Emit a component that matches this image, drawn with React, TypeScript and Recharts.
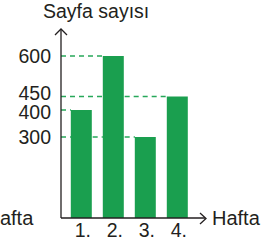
import { Bar, BarChart, ReferenceLine, XAxis, YAxis } from "recharts";

const weeks = [1, 2, 3, 4];
const weekLabels = ["1.", "2.", "3.", "4."];
const pages = [400, 600, 300, 450];
const pageTicks = [300, 400, 450, 600];

const data = weeks.map((week, i) => ({ week, pages: pages[i] }));

const font = "'Liberation Sans', Arial, Helvetica, sans-serif";
const green = "#1a9f4f";
const dashGreen = "#27a85a";
const ink = "#231f20";

// x axis runs a bit left of the first bar and out to the arrow
const xDomain: [number, number] = [0.35, 4.85];
const halfBar = 0.34; // half a bar, in week units (bar 21px, 32px per week)

// dashed guide from the y axis to the bar with that value, broken where taller bars stand
function guideSegments(v: number) {
  const target = pages.indexOf(v);
  const parts: [number, number][] = [];
  let start = xDomain[0];
  for (let j = 0; j < target; j++) {
    if (pages[j] > v) {
      parts.push([start, weeks[j] - halfBar]);
      start = weeks[j] + halfBar;
    }
  }
  parts.push([start, weeks[target] - halfBar]);
  return parts;
}

const labelStyle = { fontFamily: font, fontSize: 19.5, fill: ink };

function renderWeekTick(props: any) {
  const { x, y, payload, index } = props;
  return (
    <text key={`w-${index}`} x={x + 1} y={y} dy="0.71em" textAnchor="middle" style={labelStyle}>
      {weekLabels[index] ?? payload.value}
    </text>
  );
}

// 400 and 450 sit close together, so spread their labels a little like the original
function renderPageTick(props: any) {
  const { x, y, payload } = props;
  const v = payload.value;
  const crowdedBelow = pageTicks.some((t) => t < v && v - t <= 60);
  const crowdedAbove = pageTicks.some((t) => t > v && t - v <= 60);
  const nudge = (crowdedBelow ? -3.5 : 0) + (crowdedAbove ? 2 : 0);
  return (
    <text key={`p-${v}`} x={x} y={y + nudge} dy="0.36em" textAnchor="end" style={labelStyle}>
      {v}
    </text>
  );
}

export default function App() {
  return (
    <div
      style={{
        position: "fixed",
        left: 0,
        top: 0,
        width: 273,
        height: 247,
        background: "#fff",
        fontFamily: font,
      }}
    >
      <BarChart
        width={273}
        height={247}
        data={data}
        margin={{ top: 29, right: 68, bottom: 0, left: 0 }}
        style={{ fontFamily: font }}
      >
        <XAxis
          dataKey="week"
          type="number"
          domain={xDomain}
          ticks={weeks}
          interval={0}
          height={29}
          tickSize={0}
          tickMargin={5}
          tickLine={false}
          axisLine={{ stroke: ink, strokeWidth: 1.3 }}
          tick={renderWeekTick}
        />
        <YAxis
          type="number"
          domain={[0, 700]}
          ticks={pageTicks}
          interval={0}
          width={61}
          tickSize={0}
          tickMargin={10}
          tickLine={false}
          axisLine={{ stroke: ink, strokeWidth: 1.3 }}
          tick={renderPageTick}
        />
        {pageTicks.flatMap((v) =>
          guideSegments(v).map(([a, b]) => (
            <ReferenceLine
              key={`${v}-${a}`}
              ifOverflow="visible"
              segment={[
                { x: a, y: v },
                { x: b, y: v },
              ]}
              stroke={dashGreen}
              strokeWidth={1.5}
              strokeDasharray="5 4"
            />
          ))
        )}
        <Bar dataKey="pages" fill={green} barSize={21} isAnimationActive={false} />
      </BarChart>
      <svg
        width={273}
        height={247}
        style={{ position: "absolute", left: 0, top: 0, pointerEvents: "none", fontFamily: font }}
        fill={ink}
      >
        <polyline points="55,35 61,29 67,35" fill="none" stroke={ink} strokeWidth={1.3} />
        <polyline points="200,213 206,218.5 200,224" fill="none" stroke={ink} strokeWidth={1.3} />
        <text x={43} y={17.5} fontSize={19.5}>
          Sayfa sayısı
        </text>
        <text x={212} y={224.5} fontSize={20}>
          Hafta
        </text>
        <text x={-14.5} y={224.5} fontSize={20}>
          Hafta
        </text>
      </svg>
    </div>
  );
}
